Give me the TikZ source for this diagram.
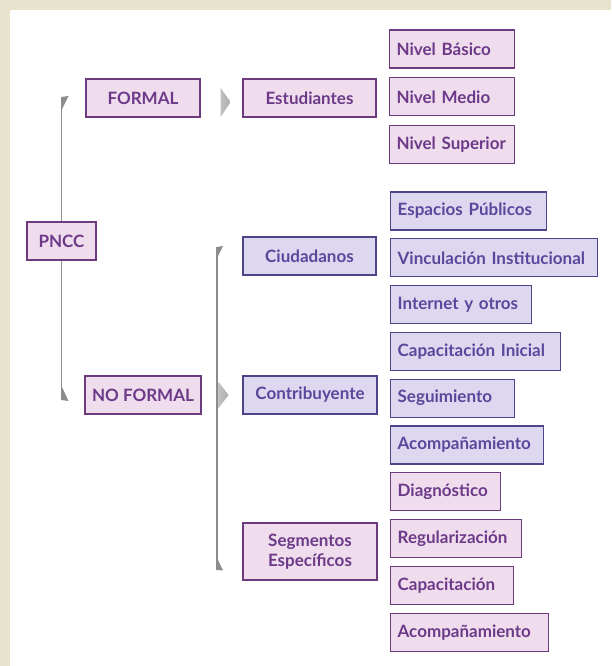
\documentclass[tikz,border=0pt]{standalone}
\usepackage{fontspec}
\setsansfont{Lato}
\usetikzlibrary{positioning,backgrounds}
\tikzstyle{every picture}+=[font=\sffamily]
\definecolor{pinkfill}{HTML}{EFDDEE}
\definecolor{lilacfill}{HTML}{DDD8EF}
\definecolor{pinkline}{HTML}{6E3A7E}
\definecolor{lilacline}{HTML}{4E4489}
\definecolor{pinktext}{HTML}{6C3A88}
\definecolor{lilactext}{HTML}{5A479C}
\definecolor{linkgray}{HTML}{8C8C8C}
\definecolor{beige}{HTML}{E7E3CD}
\tikzstyle{pinkbox}=[draw=pinkline,fill=pinkfill,text=pinktext,line width=1.3pt,minimum height=38pt,inner xsep=7pt,font=\sffamily\bfseries\fontsize{17}{20}\selectfont]
\tikzstyle{lilacbox}=[pinkbox,draw=lilacline,fill=lilacfill,text=lilactext]
\tikzstyle{pinkleaf}=[pinkbox,align=left]
\tikzstyle{lilacleaf}=[lilacbox,align=left]
\tikzstyle{link}=[draw=linkgray,line width=1.5pt]

\begin{document}
\begin{tikzpicture}[x=1pt,y=-1pt]
    \node[pinkbox,minimum width=69pt] (pncc) at (61.5,241) {PNCC};
    \node[pinkbox,minimum width=114pt] (formal) at (143,98) {FORMAL};
    \node[pinkbox,minimum width=114pt] (noformal) at (143,395) {NO FORMAL};
    \node[pinkbox,minimum width=133pt] (estudiantes) at (309.5,98) {Estudiantes};
    \node[lilacbox,minimum width=133pt] (ciudadanos) at (309.5,256) {Ciudadanos};
    \node[lilacbox,minimum width=134pt] (contribuyente) at (310,395) {Contribuyente};
    \node[pinkbox,minimum width=134pt,minimum height=57pt,align=center] (segmentos) at (310,551.5) {Segmentos\\Específicos};

    % niveles
    \node[pinkleaf,anchor=west,text width=111pt] (basico) at (389,49) {Nivel Básico};
    \node[pinkleaf,text width=111pt,below=8.5pt of basico.south west,anchor=north west] (medio) {Nivel Medio};
    \node[pinkleaf,text width=111pt,below=8.5pt of medio.south west,anchor=north west] (superior) {Nivel Superior};

    % no formal
    \node[lilacleaf,anchor=west,text width=142pt] (espacios) at (390,211) {Espacios Públicos};
    \node[lilacleaf,text width=193pt,below=7.5pt of espacios.south west,anchor=north west] (vinculacion) {Vinculación Institucional};
    \node[lilacleaf,text width=127pt,below=7.5pt of vinculacion.south west,anchor=north west] (internet) {Internet y otros};
    \node[lilacleaf,text width=156pt,below=7.5pt of internet.south west,anchor=north west] (capinicial) {Capacitación Inicial};
    \node[lilacleaf,text width=110pt,below=7.5pt of capinicial.south west,anchor=north west] (seguimiento) {Seguimiento};
    \node[lilacleaf,text width=139pt,below=7.5pt of seguimiento.south west,anchor=north west] (acompA) {Acompañamiento};
    \node[pinkleaf,text width=96pt,below=7.5pt of acompA.south west,anchor=north west] (diagnostico) {Diagnóstico};
    \node[pinkleaf,text width=117pt,below=7.5pt of diagnostico.south west,anchor=north west] (regularizacion) {Regularización};
    \node[pinkleaf,text width=109pt,below=7.5pt of regularizacion.south west,anchor=north west] (capacitacion) {Capacitación};
    \node[pinkleaf,text width=144pt,below=7.5pt of capacitacion.south west,anchor=north west] (acompB) {Acompañamiento};

    \coordinate[yshift=1pt] (top1) at (pncc.center |- formal.center);
    \coordinate[yshift=-5pt] (bot1) at (pncc.center |- noformal.center);
    \coordinate (top2) at (217,247);
    \coordinate (bot2) at (217,570);

    \begin{scope}[on background layer]
    \fill[beige] (0,0) rectangle (611,666);
    \fill[white] (10,10) rectangle (611,666);
    \path[link] (top1) -- (bot1) (top2) -- (bot2);
    \fill[linkgray] (top1) -- ++(7,-1) -- ++(-7,14) -- cycle;
    \fill[linkgray] (bot1) -- ++(0,-14) -- ++(7,15) -- cycle;
    \fill[linkgray] (top2) -- ++(6,-1) -- ++(-6,12) -- cycle;
    \fill[linkgray] (bot2) -- ++(0,-12) -- ++(6,12.5) -- cycle;
    \shade[left color=gray!20,right color=gray!65] (formal.east) ++(20,-10) -- ++(10,14) -- ++(-10,15) -- cycle;
    \shade[left color=gray!20,right color=gray!65] (noformal.east) ++(17,-13) -- ++(10,13) -- ++(-10,13) -- cycle;
    \end{scope}
\end{tikzpicture}
\end{document}
